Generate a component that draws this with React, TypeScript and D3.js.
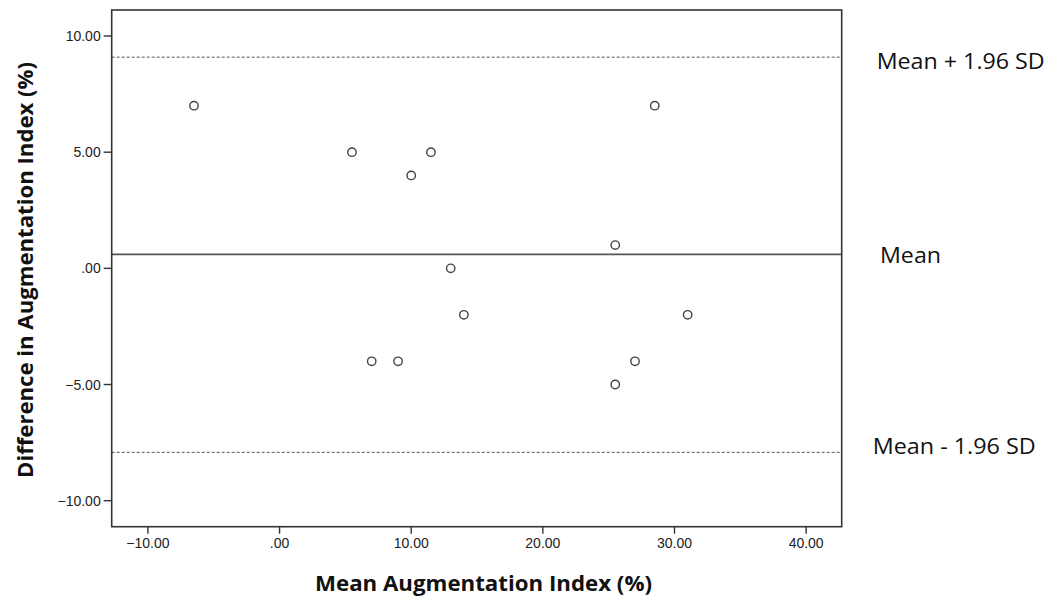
import React from "react";
import * as d3 from "d3";

const meanAI: number[] = [-6.5, 5.5, 11.5, 10, 28.5, 25.5, 13, 14, 31, 7, 9, 27, 25.5];
const diffAI: number[] = [7, 5, 5, 4, 7, 1, 0, -2, -2, -4, -4, -4, -5];
const limitValues: number[] = [9.09, 0.6, -7.92];
const limitLabels: string[] = ["Mean + 1.96 SD", "Mean", "Mean - 1.96 SD"];
const xTicks: number[] = [-10, 0, 10, 20, 30, 40];
const yTicks: number[] = [-10, -5, 0, 5, 10];
const xTitle = "Mean Augmentation Index (%)";
const yTitle = "Difference in Augmentation Index (%)";

const fmt = (v: number) => {
  const s = d3.format(".2f")(v);
  return s === "0.00" ? ".00" : s;
};

export default function App() {
  const left = 111.7, right = 841.7, top = 10, bottom = 526.7;
  const x = d3.scaleLinear().domain([-12.75, 42.7]).range([left, right]);
  const y = d3.scaleLinear().domain([-11.12, 11.12]).range([bottom, top]);
  const axisColor = "#333";
  const labelFont = "'Liberation Sans', Arial, sans-serif";
  const titleFont = "'Open Sans', sans-serif";
  const labelX = [876.7, 880, 872.7];
  const labelLen = [168, 61, 163];
  const labelDy = [12, 9, 2];

  return (
    <svg width={1052} height={599} style={{ position: "absolute", left: 0, top: 0, background: "#fff" }}>
      <rect x={0} y={0} width={1052} height={599} fill="#fff" />
      {/* reference lines */}
      {limitValues.map((v, i) => (
        <line
          key={"l" + i}
          x1={left}
          x2={right}
          y1={y(v)}
          y2={y(v)}
          stroke={i === 1 ? "#555" : "#555"}
          strokeWidth={i === 1 ? 1.6 : 1}
          strokeDasharray={i === 1 ? undefined : "3,2"}
        />
      ))}
      {/* points */}
      {meanAI.map((m, i) => (
        <circle key={"p" + i} cx={x(m)} cy={y(diffAI[i])} r={4.2} fill="none" stroke="#444" strokeWidth={1.4} />
      ))}
      {/* frame */}
      <rect x={left} y={top} width={right - left} height={bottom - top} fill="none" stroke={axisColor} strokeWidth={1.6} />
      {/* y ticks */}
      {yTicks.map((t) => (
        <g key={"y" + t}>
          <line x1={left - 8} x2={left} y1={y(t)} y2={y(t)} stroke={axisColor} strokeWidth={1.4} />
          <text x={left - 11} y={y(t)} dy="0.36em" textAnchor="end" fontFamily={labelFont} fontSize={14} fill="#222">
            {fmt(t)}
          </text>
        </g>
      ))}
      {/* x ticks */}
      {xTicks.map((t) => (
        <g key={"x" + t}>
          <line x1={x(t)} x2={x(t)} y1={bottom} y2={bottom + 7} stroke={axisColor} strokeWidth={1.4} />
          <text x={x(t)} y={548.3} textAnchor="middle" fontFamily={labelFont} fontSize={14} fill="#222">
            {fmt(t)}
          </text>
        </g>
      ))}
      {/* limit labels */}
      {limitLabels.map((s, i) => (
        <text
          key={"t" + i}
          x={labelX[i]}
          y={y(limitValues[i]) + labelDy[i]}
          fontFamily={titleFont}
          fontSize={21}
          fill="#111"
          textLength={labelLen[i]}
          lengthAdjust="spacingAndGlyphs"
        >
          {s}
        </text>
      ))}
      {/* axis titles */}
      <text
        x={483.5}
        y={591}
        textAnchor="middle"
        fontFamily={titleFont}
        fontWeight="bold"
        fontSize={21}
        fill="#111"
        textLength={337}
        lengthAdjust="spacingAndGlyphs"
      >
        {xTitle}
      </text>
      <text
        transform={`translate(33,270) rotate(-90)`}
        textAnchor="middle"
        fontFamily={titleFont}
        fontWeight="bold"
        fontSize={22}
        fill="#111"
        textLength={416}
        lengthAdjust="spacingAndGlyphs"
      >
        {yTitle}
      </text>
    </svg>
  );
}
